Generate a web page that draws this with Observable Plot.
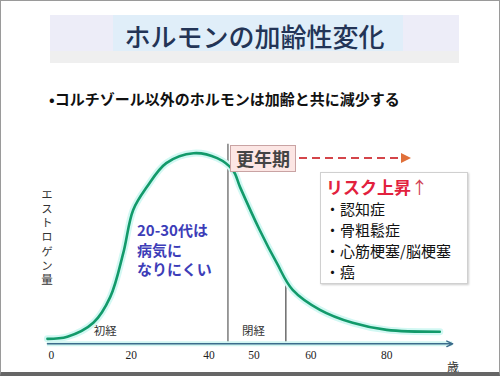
<!DOCTYPE html>
<html><head><meta charset="utf-8">
<script src="https://cdn.jsdelivr.net/npm/d3@7"></script>
<script src="https://cdn.jsdelivr.net/npm/@observablehq/plot@0.6"></script>
<style>
body{margin:0;background:#fff;font-family:"Noto Sans CJK JP",sans-serif;}
#slide{position:relative;width:500px;height:376px;overflow:hidden;box-sizing:border-box;border:1px solid #9a9a9a;border-bottom:4px solid #666;background:#fff;}
#chart{position:absolute;left:-1px;top:-1px;}
.abs{position:absolute;white-space:nowrap;}
</style></head>
<body><div id="slide">
<div id="chart"></div>
<div class="abs" style="left:49px;top:14px;width:409px;height:48px;background:#ededf8;"></div>
<div class="abs" style="left:49px;top:50px;width:409px;height:12px;background:#efefef;"></div>
<div class="abs" style="left:112px;top:14px;width:290px;height:36px;background:#e0eef9;"></div>
<div class="abs" style="left:49px;top:17px;width:409px;text-align:center;font-size:26px;line-height:36px;color:#233456;font-weight:500;">ホルモンの加齢性変化</div>
<div class="abs" style="left:48px;top:88px;font-size:15px;line-height:20px;font-weight:700;color:#111;">•コルチゾール以外のホルモンは加齢と共に減少する</div>
<div class="abs" style="left:38px;top:188px;writing-mode:vertical-rl;font-size:11.5px;letter-spacing:2.6px;color:#333;">エストロゲン量</div>
<div class="abs" style="left:229px;top:144px;width:66px;height:27px;background:#fce6e4;border:1px solid #c9a3a3;box-sizing:border-box;text-align:center;font-size:18px;line-height:25px;font-weight:700;color:#444;">更年期</div>
<svg class="abs" style="left:296px;top:148px;" width="120" height="20">
<line x1="2" y1="9" x2="106" y2="9" stroke="#d4454a" stroke-width="2" stroke-dasharray="8,5"/>
<path d="M104,4 L114,9 L104,14 Z" fill="#e0703a"/>
</svg>
<div class="abs" style="left:319px;top:171px;width:148px;height:112px;background:#fff;border:1px solid #d0d0d0;box-shadow:1px 1px 2px #ccc;box-sizing:border-box;"></div>
<div class="abs" style="left:325px;top:175px;font-size:17px;line-height:22px;font-weight:700;color:#e2213d;">リスク上昇<span style="font-weight:400;color:#d04050;">↑</span></div>
<div class="abs" style="left:324px;top:197px;font-size:15px;line-height:21px;color:#111;">・認知症<br>・骨粗鬆症<br>・心筋梗塞/脳梗塞<br>・癌</div>
<div class="abs" style="left:136px;top:219px;font-size:15px;line-height:19.5px;font-weight:700;color:#3d3db8;">20-30代は<br>病気に<br>なりにくい</div>
<div class="abs" style="left:446px;top:357px;font-size:12px;color:#333;">歳</div>
</div>
<script>
// Estrogen level over age (arbitrary units, peak = 100)
const ages = [-1, 4, 10.5, 14.75, 18, 20.5, 24, 29, 36, 41.8, 45.3, 46.9, 51, 54, 56.8, 62.4, 71, 80, 94];
const estrogen = [2.6, 3.7, 11, 24.6, 47.6, 70.2, 82.2, 94.8, 100, 97.4, 91.1, 82.2, 59.7, 42.4, 28.3, 17.8, 11, 7.3, 6.3];
const tickValues = [0, 20, 40, 50, 60, 80];
const tickLabels = ["0", "20", "40", "50", "60", "80"];
const menopauseStart = 44.2, menopauseEnd = 55.6;
const menarcheAge = 13.5;
const eventLabels = ["初経", "閉経"];

// the slide's age axis is drawn unevenly: a piecewise warp applied as the scale's transform
const warp = d3.scaleLinear().domain(tickValues).range([0, 80, 158, 203, 260, 336]);

const curve = ages.map((a, i) => ({age: a, level: estrogen[i]}));
const ticks = tickValues.map((v, i) => ({v, label: tickLabels[i]}));

const plot = Plot.plot({
  width: 500, height: 376,
  marginTop: 153, marginBottom: 32, marginLeft: 51, marginRight: 113,
  x: {transform: warp, domain: [0, 336], axis: null},
  y: {domain: [0, 100], axis: null},
  style: {background: "transparent", fontFamily: "Noto Sans CJK JP, sans-serif", overflow: "visible"},
  marks: [
    Plot.ruleX([menopauseStart], {y1: 0, y2: 104.7, stroke: "#666", strokeWidth: 1.3}),
    Plot.ruleX([menopauseEnd], {y1: 0, y2: 34, stroke: "#555", strokeWidth: 1.3}),
    Plot.line(curve, {x: "age", y: "level", curve: "catmull-rom", stroke: "#d2f8f3", strokeWidth: 7}),
    Plot.line(curve, {x: "age", y: "level", curve: "catmull-rom", stroke: "#129a6a", strokeWidth: 2.6}),
    Plot.ruleY([0], {x1: -1, x2: 97.4, stroke: "#d2f6f1", strokeWidth: 5}),
    Plot.arrow([{x1: -1, x2: 97.4}], {x1: "x1", x2: "x2", y1: 0, y2: 0, stroke: "#3c6c8c", strokeWidth: 1.4, headLength: 7, headAngle: 50}),
    Plot.text(ticks, {x: "v", y: 0, text: "label", dy: 12, fontSize: 11.5, fill: "#222", fontFamily: "Liberation Serif, serif"}),
    Plot.text([menarcheAge, (menopauseStart + menopauseEnd) / 2], {x: d => d, y: 6.3, text: (d, i) => eventLabels[i], fontSize: 11.5, fill: "#333"})
  ]
});
document.getElementById("chart").appendChild(plot);
</script>
</body></html>
